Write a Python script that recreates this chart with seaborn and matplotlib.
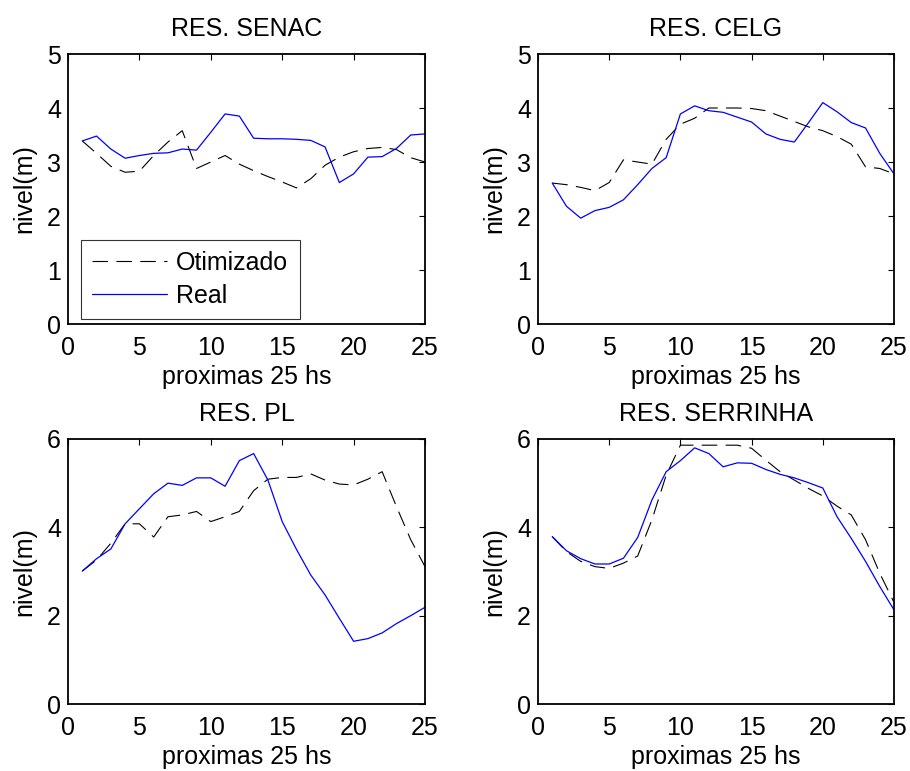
import matplotlib
matplotlib.use("Agg")
import matplotlib.pyplot as plt
import seaborn as sns
import pandas as pd

hours = list(range(1, 26))

titles = ["RES. SENAC", "RES. CELG", "RES. PL", "RES. SERRINHA"]

senac_otim = [3.39, 3.16, 2.92, 2.81, 2.83, 3.12, 3.37, 3.58, 2.88, 3.00, 3.12, 2.96, 2.84,
              2.73, 2.63, 2.52, 2.69, 2.94, 3.09, 3.19, 3.25, 3.27, 3.23, 3.08, 3.00]
senac_real = [3.39, 3.48, 3.24, 3.07, 3.12, 3.16, 3.17, 3.24, 3.22, 3.55, 3.89, 3.85, 3.44,
              3.43, 3.43, 3.42, 3.40, 3.28, 2.62, 2.78, 3.09, 3.10, 3.25, 3.50, 3.52]

celg_otim = [2.61, 2.58, 2.53, 2.47, 2.62, 3.04, 3.00, 2.96, 3.42, 3.70, 3.81, 4.00, 4.00,
             4.00, 3.99, 3.95, 3.85, 3.75, 3.65, 3.58, 3.47, 3.33, 2.91, 2.88, 2.78]
celg_real = [2.61, 2.18, 1.96, 2.10, 2.16, 2.30, 2.58, 2.88, 3.08, 3.89, 4.04, 3.95, 3.92,
             3.83, 3.74, 3.52, 3.42, 3.37, 3.73, 4.10, 3.93, 3.73, 3.63, 3.16, 2.78]

pl_otim = [3.01, 3.26, 3.64, 4.08, 4.08, 3.78, 4.24, 4.28, 4.36, 4.13, 4.24, 4.36, 4.83,
           5.09, 5.13, 5.13, 5.21, 5.07, 4.98, 4.96, 5.09, 5.26, 4.47, 3.72, 3.11]
pl_real = [3.01, 3.29, 3.51, 4.08, 4.42, 4.76, 5.00, 4.95, 5.12, 5.12, 4.93, 5.51, 5.67,
           5.07, 4.13, 3.50, 2.92, 2.47, 1.94, 1.42, 1.48, 1.61, 1.82, 2.00, 2.19]

serrinha_otim = [3.79, 3.45, 3.23, 3.11, 3.07, 3.19, 3.35, 4.17, 5.18, 5.86, 5.86, 5.86, 5.86,
                 5.86, 5.79, 5.52, 5.26, 5.07, 4.88, 4.71, 4.48, 4.28, 3.72, 2.96, 2.30]
serrinha_real = [3.79, 3.47, 3.29, 3.17, 3.17, 3.30, 3.77, 4.62, 5.26, 5.51, 5.80, 5.67, 5.37,
                 5.46, 5.45, 5.31, 5.20, 5.12, 5.01, 4.89, 4.24, 3.75, 3.23, 2.66, 2.13]

series = [(senac_otim, senac_real), (celg_otim, celg_real),
          (pl_otim, pl_real), (serrinha_otim, serrinha_real)]
ymax = [5, 5, 6, 6]
yticks = [[0, 1, 2, 3, 4, 5], [0, 1, 2, 3, 4, 5], [0, 2, 4, 6], [0, 2, 4, 6]]
xticks = [0, 5, 10, 15, 20, 25]

sns.set_style("white")
plt.rcParams["font.family"] = ["Liberation Sans", "DejaVu Sans"]
plt.rcParams["font.size"] = 18
plt.rcParams["text.color"] = "black"
plt.rcParams["axes.labelcolor"] = "black"
plt.rcParams["axes.titlecolor"] = "black"

fig = plt.figure(figsize=(9.1, 7.71), dpi=100)
W, H = 910, 771
boxes = [(68, 54, 425, 324), (538, 54, 894, 324), (68, 439, 425, 704), (538, 439, 894, 704)]

for i, (l, t, r, b) in enumerate(boxes):
    ax = fig.add_axes([l / W, 1 - b / H, (r - l) / W, (b - t) / H])
    otim, real = series[i]
    df = pd.DataFrame({"h": hours, "otim": otim, "real": real})
    sns.lineplot(data=df, x="h", y="otim", ax=ax, color="black", linewidth=0.8,
                 linestyle=(0, (14, 7.5)), label="Otimizado", legend=False)
    sns.lineplot(data=df, x="h", y="real", ax=ax, color="#0000ff", linewidth=0.9,
                 label="Real", legend=False)
    ax.set_xlim(0, 25)
    ax.set_ylim(0, ymax[i])
    ax.set_xticks(xticks)
    ax.set_yticks(yticks[i])
    ax.tick_params(direction="in", length=4, width=0.8, top=True, right=True,
                   labelsize=18, colors="black")
    ax.tick_params(axis="x", pad=8.5)
    ax.tick_params(axis="y", pad=5)
    for sp in ax.spines.values():
        sp.set_linewidth(1.3)
        sp.set_color("black")
        sp.set_visible(True)
    ax.set_title(titles[i], fontsize=18, pad=13, color="black")
    ax.set_xlabel("proximas 25 hs", fontsize=18, labelpad=4, color="black")
    ax.set_ylabel("nivel(m)", fontsize=18, labelpad=8, color="black")
    if i == 0:
        leg = ax.legend(loc="lower left", bbox_to_anchor=(13 / 357, 5 / 270),
                        borderaxespad=0, fancybox=False, frameon=True, fontsize=18,
                        handlelength=3.0, handletextpad=0.36, labelspacing=0.35,
                        borderpad=0.45)
        leg.get_frame().set_edgecolor("black")
        leg.get_frame().set_linewidth(0.8)
        for txt in leg.get_texts():
            txt.set_color("black")

fig.savefig("out.png", dpi=100, facecolor="white")
